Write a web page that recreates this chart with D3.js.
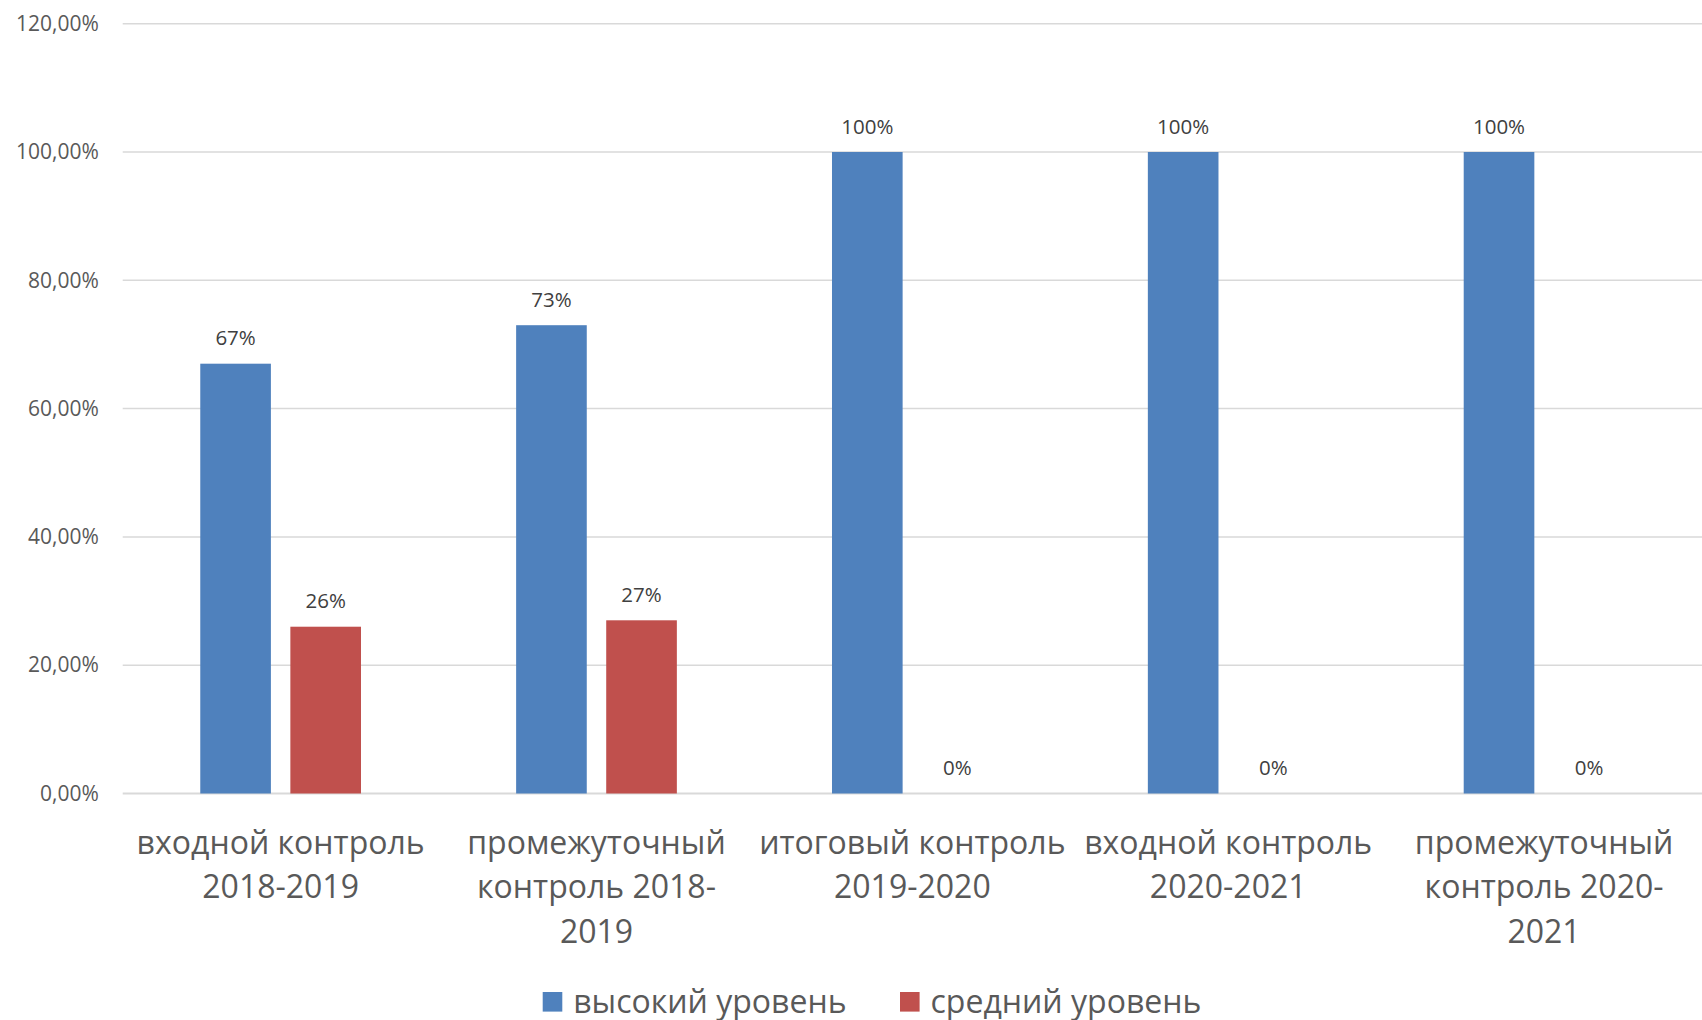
<!DOCTYPE html>
<html><head><meta charset="utf-8">
<script src="https://cdn.jsdelivr.net/npm/d3@7/dist/d3.min.js"></script>
<style>body{margin:0;background:#fff}svg{display:block}text{font-family:"Open Sans",sans-serif}</style>
</head><body>
<svg id="c" width="1702" height="1020"></svg>
<script>
const categories = ["входной контроль 2018-2019","промежуточный контроль 2018-2019","итоговый контроль 2019-2020","входной контроль 2020-2021","промежуточный контроль 2020-2021"];
const categoryLines = [["входной контроль","2018-2019"],["промежуточный","контроль 2018-","2019"],["итоговый контроль","2019-2020"],["входной контроль","2020-2021"],["промежуточный","контроль 2020-","2021"]];
const seriesNames = ["высокий уровень","средний уровень"];
const highLevel = [0.67,0.73,1.00,1.00,1.00];
const midLevel = [0.26,0.27,0,0,0];
const yTicks = [0,0.2,0.4,0.6,0.8,1.0,1.2];
const colors = ["#4f81bd","#c0504d"];

(function(){
const svg = d3.select("#c");
const pLeft = 122.7, pRight = 1702, pTop = 23.7, pBottom = 793.5;
const x0 = d3.scaleBand().domain(categories).range([pLeft,pRight]).padding(0);
const x1 = d3.scaleBand().domain(seriesNames).range([0,x0.bandwidth()]).paddingInner(0.216).paddingOuter(0.861);
const y = d3.scaleLinear().domain([0,1.2]).range([pBottom,pTop]);
const fmtTick = v => d3.format(".2f")(v*100).replace(".",",")+"%";
const fmtVal = v => d3.format(".0f")(v*100)+"%";

svg.append("g").selectAll("line").data(yTicks).join("line")
  .attr("x1",pLeft).attr("x2",pRight).attr("y1",d=>y(d)).attr("y2",d=>y(d))
  .attr("stroke","#d9d9d9").attr("stroke-width",d=>d===0?2:1.5);

const yAxis = d3.axisLeft(y).tickValues(yTicks).tickFormat(fmtTick).tickSize(0).tickPadding(0);
const ga = svg.append("g").attr("transform","translate(98.8,0)").call(yAxis);
ga.select(".domain").remove();
ga.selectAll("text").attr("font-size","21px").attr("fill","#595959").attr("font-family","Open Sans");

const rows = categories.map((c,i)=>({c, vals:[highLevel[i],midLevel[i]]}));
const groups = svg.append("g").selectAll("g").data(rows).join("g")
  .attr("transform",d=>`translate(${x0(d.c)},0)`);
groups.selectAll("rect").data(d=>d.vals.map((v,j)=>({s:seriesNames[j],v,j}))).join("rect")
  .attr("x",d=>x1(d.s)).attr("width",x1.bandwidth())
  .attr("y",d=>y(d.v)).attr("height",d=>pBottom-y(d.v)).attr("fill",d=>colors[d.j]);
groups.selectAll("text.v").data(d=>d.vals.map((v,j)=>({s:seriesNames[j],v,j}))).join("text")
  .attr("class","v").attr("x",d=>x1(d.s)+x1.bandwidth()/2).attr("y",d=>y(d.v)-18.5)
  .attr("text-anchor","middle").attr("font-size","20.5px").attr("fill","#404040").text(d=>fmtVal(d.v));

const cl = svg.append("g").selectAll("text").data(categories).join("text")
  .attr("x",d=>x0(d)+x0.bandwidth()/2).attr("y",853.5).attr("text-anchor","middle")
  .attr("font-size","32px").attr("fill","#595959");
cl.selectAll("tspan").data((d,i)=>categoryLines[i]).join("tspan")
  .attr("x",function(){return this.parentNode.getAttribute("x");})
  .attr("dy",(d,i)=>i===0?0:44.5).text(d=>d);

const legX = [542.7, 900];
const lg = svg.append("g").selectAll("g").data(seriesNames).join("g")
  .attr("transform",(d,i)=>`translate(${legX[i]},992)`);
lg.append("rect").attr("width",19.6).attr("height",19.6).attr("fill",(d,i)=>colors[i]);
lg.append("text").attr("x",30.5).attr("y",20.5).attr("font-size","32px").attr("fill","#595959").text(d=>d);
})();
</script>
</body></html>
